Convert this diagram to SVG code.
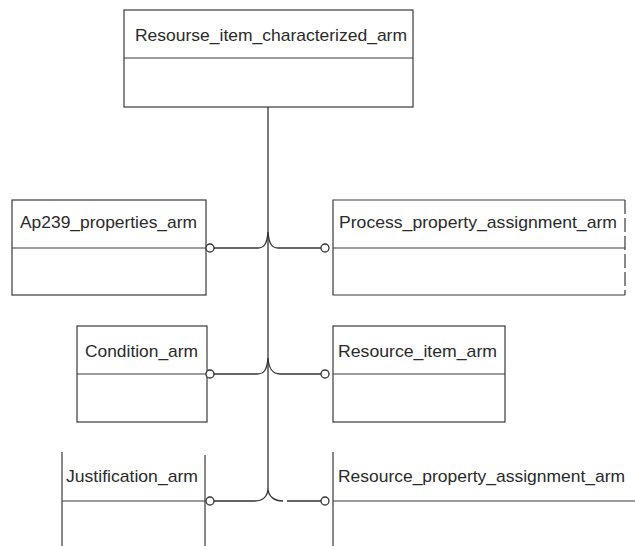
<svg xmlns="http://www.w3.org/2000/svg" width="635" height="546" viewBox="0 0 635 546">
<style>
.box{fill:none;stroke:#3a3a3a;stroke-width:1.2}
.ln{fill:none;stroke:#333;stroke-width:1.3}
.t{font-family:"Liberation Sans",Arial,sans-serif;font-size:17px;fill:#2a2a2a}
.c{fill:#fff;stroke:#333;stroke-width:1.3}
</style>
<rect width="635" height="546" fill="#fff"/>
<g id="Resourse_item_characterized_arm">
<rect class="box" x="124" y="10" width="289" height="97"/>
<line class="box" x1="124" y1="58" x2="413" y2="58"/>
<text class="t" x="135" y="41" textLength="272" lengthAdjust="spacingAndGlyphs">Resourse_item_characterized_arm</text>
</g>
<g id="Ap239_properties_arm">
<rect class="box" x="12" y="200" width="194" height="95"/>
<line class="box" x1="12" y1="248" x2="206" y2="248"/>
<text class="t" x="20" y="228" textLength="177" lengthAdjust="spacingAndGlyphs">Ap239_properties_arm</text>
</g>
<g id="Process_property_assignment_arm">
<path class="box" d="M625,200 H333 V295 H625"/>
<line class="box" x1="625" y1="200" x2="625" y2="295" stroke-dasharray="14 4"/>
<line class="box" x1="333" y1="248" x2="625" y2="248"/>
<text class="t" x="339" y="228" textLength="278" lengthAdjust="spacingAndGlyphs">Process_property_assignment_arm</text>
</g>
<g id="Condition_arm">
<rect class="box" x="77" y="326" width="130" height="96"/>
<line class="box" x1="77" y1="374" x2="207" y2="374"/>
<text class="t" x="85" y="357" textLength="113" lengthAdjust="spacingAndGlyphs">Condition_arm</text>
</g>
<g id="Resource_item_arm">
<rect class="box" x="333" y="326" width="172" height="96"/>
<line class="box" x1="333" y1="374" x2="505" y2="374"/>
<text class="t" x="338" y="357" textLength="159" lengthAdjust="spacingAndGlyphs">Resource_item_arm</text>
</g>
<g id="Justification_arm">
<line class="box" x1="62" y1="452" x2="62" y2="546"/>
<line class="box" x1="205" y1="455" x2="205" y2="546"/>
<line class="box" x1="62" y1="501" x2="205" y2="501"/>
<text class="t" x="66" y="482" textLength="132" lengthAdjust="spacingAndGlyphs">Justification_arm</text>
</g>
<g id="Resource_property_assignment_arm">
<line class="box" x1="333" y1="452" x2="333" y2="546"/>
<line class="box" x1="333" y1="501" x2="635" y2="501"/>
<text class="t" x="338" y="482" textLength="287" lengthAdjust="spacingAndGlyphs">Resource_property_assignment_arm</text>
</g>
<g id="connectors">
<line class="ln" x1="268" y1="107" x2="268" y2="488"/>
<path class="ln" d="M214,248 H258 C264,248 267,244 268,232 C269,244 272,248 278,248 H321"/>
<path class="ln" d="M214,374 H257 C264,374 267,370 268,358 C269,370 273,374 280,374 H321"/>
<path class="ln" d="M214,501 H255 C262,501 268,497 268,488 C268,497 275,501 283,501"/>
<path class="ln" d="M287,501 H321"/>
<circle class="c" cx="210" cy="248" r="4"/>
<circle class="c" cx="325" cy="248" r="4"/>
<circle class="c" cx="210" cy="374" r="4"/>
<circle class="c" cx="325" cy="374" r="4"/>
<circle class="c" cx="210" cy="501" r="4"/>
<circle class="c" cx="325" cy="501" r="4"/>
</g>
</svg>
